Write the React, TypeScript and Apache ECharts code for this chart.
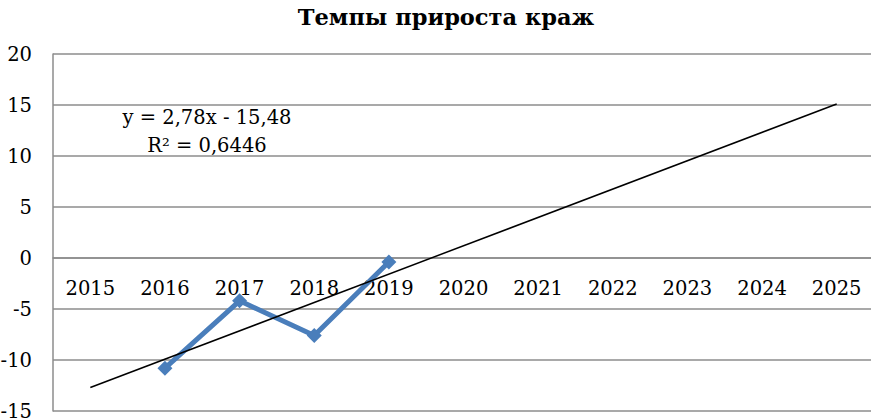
import React, { useEffect, useRef } from "react";
import * as echarts from "echarts";

const categories = ["2015", "2016", "2017", "2018", "2019", "2020", "2021", "2022", "2023", "2024", "2025"];
const theftGrowth: (number | null)[] = [null, -10.8, -4.2, -7.6, -0.4, null, null, null, null, null, null];
const trendValues: (number | null)[] = [-12.7, null, null, null, null, null, null, null, null, null, 15.1];
const equationLines = ["y = 2,78x - 15,48", "R² = 0,6446"];
const titleText = "Темпы прироста краж";

export default function App() {
  const ref = useRef<HTMLDivElement>(null);
  useEffect(() => {
    if (!ref.current) return;
    const chart = echarts.init(ref.current, null, { renderer: "svg" });
    const font = "DejaVu Serif";
    chart.setOption({
      animation: false,
      backgroundColor: "#ffffff",
      textStyle: { fontFamily: font },
      title: {
        text: titleText,
        left: 441,
        textAlign: "center",
        top: 0,
        textStyle: { fontFamily: font, fontWeight: "bold", fontSize: 22.5, color: "#000" },
      },
      grid: { left: 53, top: 54, width: 821, height: 357, containLabel: false, outerBoundsMode: "none" },
      xAxis: {
        type: "category",
        data: categories,
        boundaryGap: true,
        position: "bottom",
        offset: -153,
        axisLine: { show: true, onZero: false, lineStyle: { color: "#8c8c8c", width: 1.5 } },
        axisTick: { show: false },
        axisLabel: { color: "#000", fontSize: 19.5, fontFamily: font, margin: 20, interval: 0 },
        splitLine: { show: false },
      },
      yAxis: {
        type: "value",
        min: -15,
        max: 20,
        interval: 5,
        axisLine: { show: true, onZero: false, lineStyle: { color: "#8c8c8c", width: 1.5 } },
        axisTick: { show: false },
        axisLabel: { color: "#000", fontSize: 19.5, fontFamily: font, margin: 21 },
        splitLine: { show: true, lineStyle: { color: "#8c8c8c", width: 1.5 } },
      },
      graphic: equationLines.map((t, i) => ({
        type: "text",
        x: 207,
        y: 117 + i * 28,
        style: {
          text: t,
          fontFamily: font,
          fontSize: 19.5,
          fill: "#000",
          align: "center",
          verticalAlign: "middle",
        },
      })),
      series: [
        {
          type: "line",
          data: trendValues,
          connectNulls: true,
          showSymbol: false,
          symbol: "none",
          lineStyle: { color: "#000", width: 1.5 },
          z: 3,
        },
        {
          type: "line",
          data: theftGrowth,
          symbol: "diamond",
          symbolSize: 15,
          itemStyle: { color: "#4A7EBB" },
          lineStyle: { color: "#4A7EBB", width: 5 },
          z: 2,
        },
      ],
    });
    return () => chart.dispose();
  }, []);
  return <div ref={ref} style={{ position: "fixed", left: 0, top: 0, width: 871, height: 420 }} />;
}
